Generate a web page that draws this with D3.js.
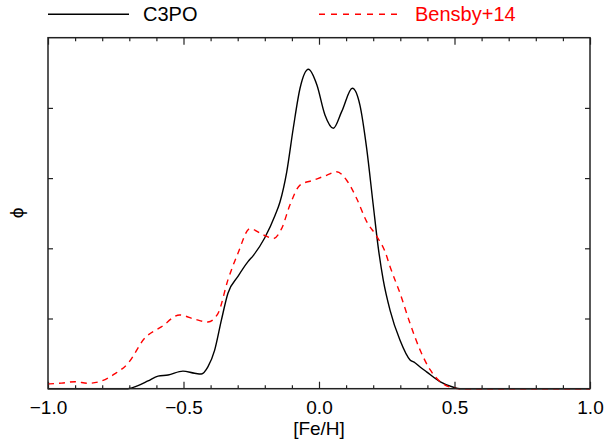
<!DOCTYPE html>
<html>
<head>
<meta charset="utf-8">
<script src="https://cdn.jsdelivr.net/npm/d3@7"></script>
<style>
  body { margin: 0; background: #fff; }
  svg text { font-family: "Liberation Sans", Arial, Helvetica, sans-serif; }
</style>
</head>
<body>
<div id="chart"></div>
<script>
// [Fe/H] grid and density for C3PO (solid black)
const fehC3po = [-1.0, -0.8, -0.705, -0.67, -0.631, -0.594, -0.557, -0.502, -0.459, -0.434, -0.41, -0.385,
  -0.36, -0.336, -0.299, -0.262, -0.242, -0.2, -0.162, -0.144, -0.119, -0.095, -0.07, -0.039, -0.008,
  0.022, 0.053, 0.084, 0.123, 0.151, 0.176, 0.2, 0.219, 0.237, 0.262, 0.299, 0.336, 0.354, 0.373, 0.397,
  0.446, 0.496, 0.52, 1.0];
const phiC3po = [0, 0, 0, 0.04, 0.11, 0.18, 0.195, 0.25, 0.22, 0.21, 0.31, 0.55,
  0.98, 1.36, 1.6, 1.81, 1.9, 2.15, 2.47, 2.66, 3.09, 3.71, 4.28, 4.55, 4.33,
  3.9, 3.71, 3.95, 4.28, 4.04, 3.42, 2.62, 2.0, 1.55, 1.12, 0.69, 0.41, 0.37, 0.31, 0.24,
  0.10, 0.02, 0, 0];

// Bensby+14 (dashed red)
const fehBensby = [-1.0, -0.95, -0.9, -0.852, -0.81, -0.754, -0.705, -0.643, -0.582, -0.514, -0.459, -0.41,
  -0.373, -0.336, -0.299, -0.255, -0.205, -0.168, -0.138, -0.107, -0.07, -0.021, 0.028, 0.065, 0.102,
  0.139, 0.176, 0.213, 0.244, 0.262, 0.299, 0.336, 0.373, 0.41, 0.459, 0.496, 0.52, 1.0];
const phiBensby = [0.067, 0.08, 0.1, 0.077, 0.1, 0.21, 0.36, 0.72, 0.88, 1.05, 0.99, 0.95,
  1.07, 1.55, 1.93, 2.28, 2.19, 2.14, 2.28, 2.62, 2.9, 2.97, 3.04, 3.09, 2.97,
  2.71, 2.38, 2.17, 1.95, 1.74, 1.36, 0.93, 0.55, 0.27, 0.067, 0.01, 0, 0];

const xMajor = [-1.0, -0.5, 0.0, 0.5, 1.0];
const xMinor = d3.range(-10, 11).map(i => i / 10).filter(v => Math.abs(v * 2 - Math.round(v * 2)) > 1e-6);
const yMajor = [1, 2, 3, 4];

const width = 604, height = 444;
const plotLeft = 48, plotRight = 590, plotTop = 37.7, plotBottom = 388.7;

const svg = d3.select('#chart').append('svg')
  .attr('width', width)
  .attr('height', height);

const x = d3.scaleLinear().domain([-1, 1]).range([plotLeft, plotRight]);
const y = d3.scaleLinear().domain([0, 5]).range([plotBottom, plotTop]);

const fmt = v => d3.format('.1f')(v);

// axes: ticks point inward like the original
const axisStyle = g => {
  g.select('.domain').remove();
  g.selectAll('line').attr('stroke', '#222').attr('stroke-width', 1.2);
};

svg.append('g')
  .attr('transform', `translate(0,${plotBottom})`)
  .call(d3.axisBottom(x).tickValues(xMajor).tickSize(-7).tickPadding(0).tickFormat(fmt))
  .call(axisStyle)
  .call(g => g.selectAll('text')
    .attr('y', 25.5).attr('dy', 0)
    .attr('fill', '#000')
    .style('font-size', '19px'));

svg.append('g')
  .attr('transform', `translate(0,${plotBottom})`)
  .call(d3.axisBottom(x).tickValues(xMinor).tickSize(-3.5).tickFormat(''))
  .call(axisStyle);

svg.append('g')
  .attr('transform', `translate(0,${plotTop})`)
  .call(d3.axisTop(x).tickValues(xMajor).tickSize(-7).tickFormat(''))
  .call(axisStyle);

svg.append('g')
  .attr('transform', `translate(0,${plotTop})`)
  .call(d3.axisTop(x).tickValues(xMinor).tickSize(-3.5).tickFormat(''))
  .call(axisStyle);

svg.append('g')
  .attr('transform', `translate(${plotLeft},0)`)
  .call(d3.axisLeft(y).tickValues(yMajor).tickSize(-5).tickFormat(''))
  .call(axisStyle);

svg.append('g')
  .attr('transform', `translate(${plotRight},0)`)
  .call(d3.axisRight(y).tickValues(yMajor).tickSize(-5).tickFormat(''))
  .call(axisStyle);

// curves
const line = d3.line()
  .x(d => x(d[0]))
  .y(d => y(d[1]))
  .curve(d3.curveMonotoneX);

svg.append('path')
  .datum(d3.zip(fehC3po, phiC3po))
  .attr('fill', 'none')
  .attr('stroke', '#000')
  .attr('stroke-width', 1.4)
  .attr('d', line);

svg.append('path')
  .datum(d3.zip(fehBensby, phiBensby))
  .attr('fill', 'none')
  .attr('stroke', '#ff0000')
  .attr('stroke-width', 1.4)
  .attr('stroke-dasharray', '6,5')
  .attr('d', line);

// frame
svg.append('rect')
  .attr('x', plotLeft).attr('y', plotTop)
  .attr('width', plotRight - plotLeft).attr('height', plotBottom - plotTop)
  .attr('fill', 'none')
  .attr('stroke', '#222')
  .attr('stroke-width', 1.5);

// axis titles
svg.append('text')
  .attr('x', (plotLeft + plotRight) / 2)
  .attr('y', 434.5)
  .attr('text-anchor', 'middle')
  .style('font-size', '19px')
  .text('[Fe/H]');

svg.append('text')
  .attr('transform', 'translate(23,213) rotate(-90)')
  .attr('text-anchor', 'middle')
  .style('font-size', '19px')
  .text('ϕ');

// legend
svg.append('line')
  .attr('x1', 48).attr('x2', 129)
  .attr('y1', 14.3).attr('y2', 14.3)
  .attr('stroke', '#000').attr('stroke-width', 1.4);
svg.append('text')
  .attr('x', 143).attr('y', 21)
  .style('font-size', '20px')
  .text('C3PO');

svg.append('line')
  .attr('x1', 319).attr('x2', 399)
  .attr('y1', 14.3).attr('y2', 14.3)
  .attr('stroke', '#ff0000').attr('stroke-width', 1.4)
  .attr('stroke-dasharray', '6,6');
svg.append('text')
  .attr('x', 415).attr('y', 21)
  .attr('fill', '#ff0000')
  .style('font-size', '20px')
  .text('Bensby+14');
</script>
</body>
</html>
